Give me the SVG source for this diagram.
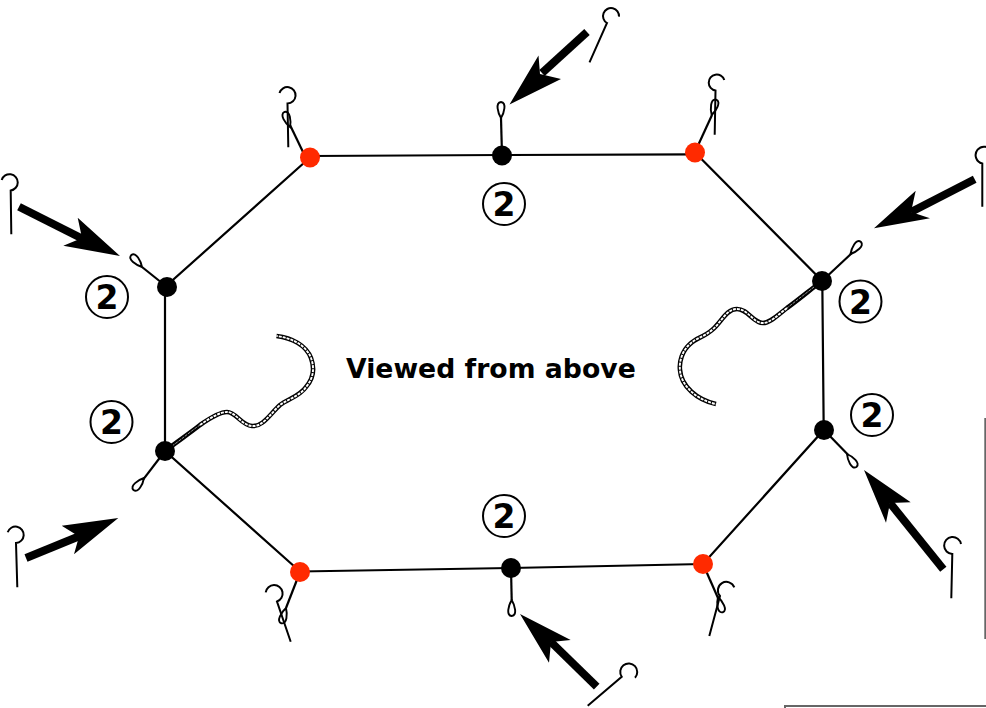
<svg xmlns="http://www.w3.org/2000/svg" width="986" height="708" viewBox="0 0 986 708">
<style>
.edge{fill:none;stroke:#000;stroke-width:2.2}
.tether{fill:none;stroke:#000;stroke-width:2.2}
.loop{fill:#fff;stroke:#000;stroke-width:1.9}
.hook{fill:none;stroke:#000;stroke-width:2}
.black{fill:#000}
.red{fill:#ff2a00}
.shaft{fill:none;stroke:#000;stroke-width:8}
.head{fill:#000}
.ropeA{fill:none;stroke:#000;stroke-width:4.6}
.ropeB{fill:none;stroke:#fff;stroke-width:1.9;stroke-dasharray:3 1}
.ropeC{fill:none;stroke:#999;stroke-width:1;stroke-dasharray:3 1}
.badge{fill:#fff;stroke:#000;stroke-width:2}
.num{font-family:"DejaVu Sans",sans-serif;font-weight:700;font-size:33px;text-anchor:middle;fill:#000}
.title{font-family:"DejaVu Sans",sans-serif;font-weight:700;font-size:26.7px;fill:#000}
.frame{fill:none;stroke:#666;stroke-width:2}
</style>
<defs>
<path id="loop" class="loop" d="M0,0 C-3,-5 -6,-15.5 0,-16 C6,-15.5 3,-5 0,0Z"/>
</defs>
<g id="frame"><path class="frame" d="M985.3,418V639M785,708V706H986"/></g>
<g id="connectors">
<path class="edge" d="M310,156L502,155L695,154.3"/>
<path class="edge" d="M695,152.5L822.3,281L823.7,430L703,564L511,568L300,571.5L165,451V287L310,157.5"/>
<path class="shaft" d="M587,32L542,73"/>
<polygon class="head" points="509.5,104.5 538.5,55.5 540,74 561,79"/>
<path class="shaft" d="M19,206.7L84,239.5"/>
<polygon class="head" points="120,256 77.7,217.7 82,238 63.3,245.7"/>
<path class="shaft" d="M26,558L81,535.5"/>
<polygon class="head" points="118.3,518 61.7,525.7 79,536.5 74,554.3"/>
<path class="shaft" d="M974.7,179.3L911,212"/>
<polygon class="head" points="874,228.3 915.7,190.7 911,212 930,218.3"/>
<path class="shaft" d="M943.3,569.3L890,503"/>
<polygon class="head" points="864,470 910.7,502.3 890,503 886,522.7"/>
<path class="shaft" d="M596.7,686.7L551,642"/>
<polygon class="head" points="520,614 570.7,640 551,642 549,662.7"/>
</g>
<g id="rope-left"><path class="ropeA" d="M165,451C178,441 190,433 200,425C210,418 220,412 227,412C236,412 241,425 252,426C263,427 270,414 280,405C288,399 300,396 306,387C313,379 315,369 311,358C306,345 292,338 276.5,336"/><path class="ropeC" d="M172,446C182,439 191,431 200,425"/><path class="ropeB" d="M200,425C210,418 220,412 227,412C236,412 241,425 252,426C263,427 270,414 280,405C288,399 300,396 306,387C313,379 315,369 311,358C306,345 292,338 276.5,336"/></g>
<g id="rope-right"><path class="ropeA" d="M822,281C810,290 797,301 787,308C778,315 770,323 763,323C753,323 748,309 737,309C726,309 721,323 712,330C704,337 696,338 690,344C682,351 679,362 680,370C681,386 697,400 716,404"/><path class="ropeC" d="M814,287C805,294 796,301 787,308"/><path class="ropeB" d="M787,308C778,315 770,323 763,323C753,323 748,309 737,309C726,309 721,323 712,330C704,337 696,338 690,344C682,351 679,362 680,370C681,386 697,400 716,404"/></g>
<g id="node-top"><path class="tether" d="M502,155L501,118"/><use href="#loop" transform="translate(501,118)"/><circle class="black" cx="502" cy="155.5" r="10"/></g>
<g id="node-top-right"><path class="tether" d="M695,152L712,115"/><use href="#loop" transform="translate(711.7,115) rotate(16)"/><circle class="red" cx="695" cy="152.5" r="10"/></g>
<g id="node-top-left"><path class="tether" d="M303,152L290,125"/><use href="#loop" transform="translate(290,127) rotate(-20)"/><circle class="red" cx="310" cy="157.5" r="10"/></g>
<g id="node-left-upper"><path class="tether" d="M167,287L142,267"/><use href="#loop" transform="translate(142,267) rotate(-42)"/><circle class="black" cx="167" cy="287" r="10"/></g>
<g id="node-left-lower"><path class="tether" d="M165,451L143.3,479.3"/><use href="#loop" transform="translate(144,478) rotate(-139)"/><circle class="black" cx="165" cy="451" r="10"/></g>
<g id="node-bottom-left"><path class="tether" d="M300,572L286,608"/><use href="#loop" transform="translate(286,608) rotate(-163)"/><circle class="red" cx="300" cy="572" r="10"/></g>
<g id="node-bottom"><path class="tether" d="M511,568L511.7,600"/><use href="#loop" transform="translate(511.7,600) rotate(180)"/><circle class="black" cx="511" cy="568" r="10"/></g>
<g id="node-bottom-right"><path class="tether" d="M703,564L718,598"/><use href="#loop" transform="translate(718,597) rotate(163)"/><circle class="red" cx="703" cy="564" r="10"/></g>
<g id="node-right-lower"><path class="tether" d="M824,430L848.3,455"/><use href="#loop" transform="translate(847,454) rotate(144)"/><circle class="black" cx="824" cy="430" r="10"/></g>
<g id="node-right-upper"><path class="tether" d="M822,281L851.7,253.3"/><use href="#loop" transform="translate(850.5,254) rotate(40)"/><circle class="black" cx="822" cy="281" r="10"/></g>
<g id="hooks">
<path class="hook" d="M589.5,62.3L607,23A8,8 0 1 1 619,16.7"/>
<path class="hook" d="M714.7,134.7L715.5,90.5A8,8 0 1 1 724.3,80"/>
<path class="hook" d="M288.3,147.3L287.5,103.5A8.2,8.2 0 1 0 279.5,93"/>
<path class="hook" d="M11.3,234.3L10.7,190.5A8.2,8.2 0 1 0 1.7,180"/>
<path class="hook" d="M17.3,587.3L16,543A8.2,8.2 0 1 0 7.7,532.3"/>
<path class="hook" d="M290.7,641.7L277,601.5A8.5,8.5 0 1 0 265.7,592.3"/>
<path class="hook" d="M982.3,206.7L982.3,163.5A8.5,8.5 0 1 1 992,152"/>
<path class="hook" d="M951.3,598.3L952.3,554A8.5,8.5 0 1 1 961,544"/>
<path class="hook" d="M709.3,636L720,596A8.5,8.5 0 1 1 734.3,587.3"/>
<path class="hook" d="M587.7,705.7L621.7,676.7A8.5,8.5 0 1 1 635,677.7"/>
</g>
<g id="badge-1"><circle class="badge" cx="504" cy="204" r="21"/><text class="num" x="504" y="216">2</text></g>
<g id="badge-2"><circle class="badge" cx="107" cy="297" r="21"/><text class="num" x="107" y="309">2</text></g>
<g id="badge-3"><circle class="badge" cx="111.5" cy="422" r="21"/><text class="num" x="111.5" y="434">2</text></g>
<g id="badge-4"><circle class="badge" cx="860.5" cy="301.5" r="21"/><text class="num" x="860.5" y="313.5">2</text></g>
<g id="badge-5"><circle class="badge" cx="872" cy="415" r="21"/><text class="num" x="872" y="427">2</text></g>
<g id="badge-6"><circle class="badge" cx="504" cy="516" r="21"/><text class="num" x="504" y="528">2</text></g>
<g id="title"><text class="title" x="346" y="378">Viewed from above</text></g>
</svg>
